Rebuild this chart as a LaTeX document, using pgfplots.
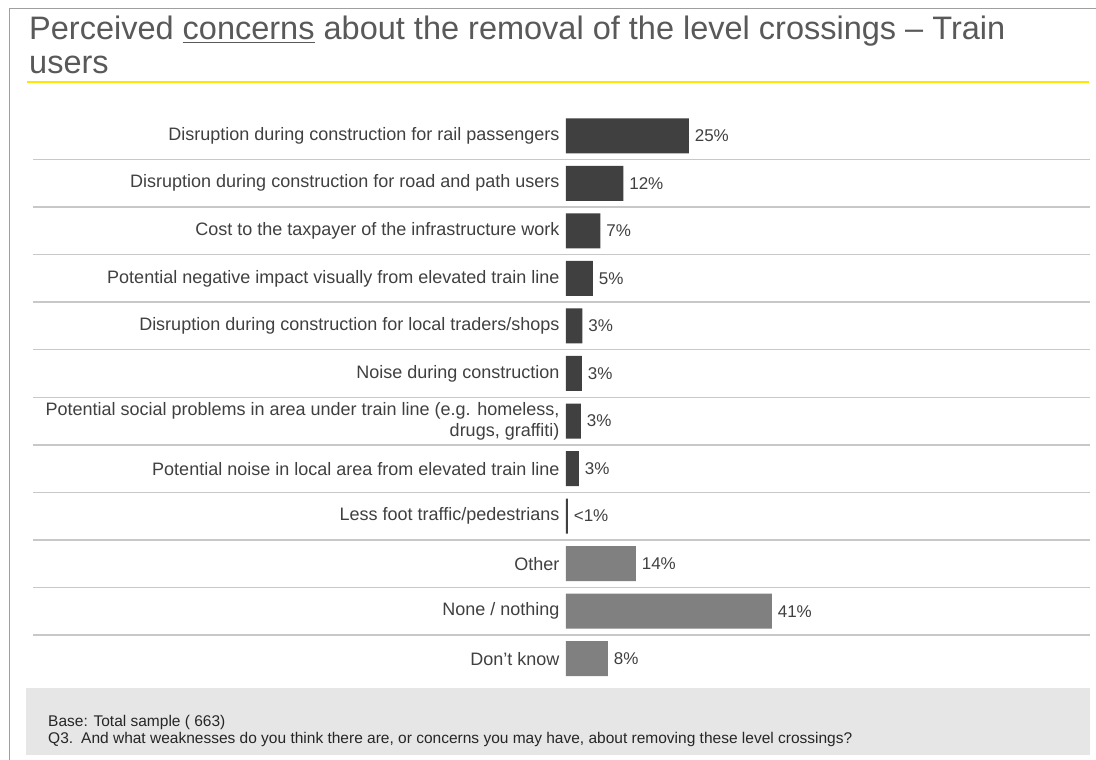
\documentclass[border=0pt]{standalone}
\usepackage{fontspec}
\setmainfont{Liberation Sans}
\usepackage{pgfplots}
\pgfplotsset{compat=1.18}
\usepackage{pgfplotstable}
\definecolor{darkbar}{HTML}{404040}
\definecolor{graybar}{HTML}{808080}
\definecolor{sepline}{HTML}{C8C8C8}
\definecolor{titlegray}{HTML}{595959}
\definecolor{eyyellow}{HTML}{FFE600}
\definecolor{footbg}{HTML}{E6E6E6}
\definecolor{labtext}{HTML}{404040}

\pgfplotstableread[col sep=comma]{
pos,val,lab
0,24.6,25\%
1,11.5,12\%
2,6.9,7\%
3,5.4,5\%
4,3.3,3\%
5,3.2,3\%
6,3.0,3\%
7,2.6,3\%
8,0.4,<1\%
}\concerns
\pgfplotstableread[col sep=comma]{
pos,val,lab
9,14.0,14\%
10,41.2,41\%
11,8.4,8\%
}\others

\begin{document}
\begin{tikzpicture}
\path[use as bounding box] (0,0) rectangle (1096pt,-760pt);
\fill[white] (0,0) rectangle (1096pt,-760pt);
% frame
\draw[gray!75, line width=1pt] (9pt,-760pt) -- (9pt,-9pt) -- (1096pt,-9pt);
% title
\node[anchor=base west, inner sep=0, text=titlegray, font=\fontsize{32.5}{36}\selectfont] at (29pt,-40pt)
  {Perceived \underline{concerns} about the removal of the level crossings – Train};
\node[anchor=base west, inner sep=0, text=titlegray, font=\fontsize{32.5}{36}\selectfont] at (29pt,-74pt) {users};
\draw[eyyellow, line width=2.5pt] (27pt,-82pt) -- (1089pt,-82pt);
% footer
\fill[footbg] (26pt,-688pt) rectangle (1090pt,-755pt);
\node[anchor=base west, inner sep=0, text=black!85, font=\fontsize{15.5}{17}\selectfont] at (48pt,-726pt) {Base: Total sample ( 663)};
\node[anchor=base west, inner sep=0, text=black!85, font=\fontsize{15.5}{17}\selectfont] at (48pt,-743pt) {Q3.};
\node[anchor=base west, inner sep=0, text=black!85, font=\fontsize{15.5}{17}\selectfont] at (81pt,-743pt) {And what weaknesses do you think there are, or concerns you may have, about removing these level crossings?};

\begin{axis}[
  at={(566pt,-682.5pt)}, anchor=south west,
  scale only axis, width=524pt, height=570.5pt,
  xmin=0, xmax=104.8, ymin=-0.5, ymax=11.5, y dir=reverse,
  xbar, bar width=35pt, bar shift=0pt,
  axis line style={draw=none},
  major tick length=0pt,
  xtick=\empty,
  ytick={0,1,...,11},
  yticklabels={
    Disruption during construction for rail passengers,
    Disruption during construction for road and path users,
    Cost to the taxpayer of the infrastructure work,
    Potential negative impact visually from elevated train line,
    Disruption during construction for local traders/shops,
    Noise during construction,
    {Potential social problems in area under train line (e.g. homeless,\\drugs, graffiti)},
    Potential noise in local area from elevated train line,
    Less foot traffic/pedestrians,
    Other,
    None / nothing,
    Don’t know},
  yticklabel style={align=right, font=\fontsize{18}{21}\selectfont, text=labtext, xshift=-3pt},
  point meta=explicit symbolic,
  nodes near coords,
  nodes near coords style={font=\fontsize{17}{20}\selectfont, text=labtext, anchor=west, xshift=2.3pt},
  clip=false,
]
\pgfplotsinvokeforeach{0.5,1.5,2.5,3.5,4.5,5.5,6.5,7.5,8.5,9.5,10.5}{
  \draw[sepline, line width=1.5pt] (axis cs:-106.6,#1) -- (axis cs:104.8,#1);
}
\addplot[fill=darkbar, draw=none] table[x=val, y=pos, meta=lab] {\concerns};
\addplot[fill=graybar, draw=none] table[x=val, y=pos, meta=lab] {\others};
\end{axis}
\end{tikzpicture}
\end{document}
